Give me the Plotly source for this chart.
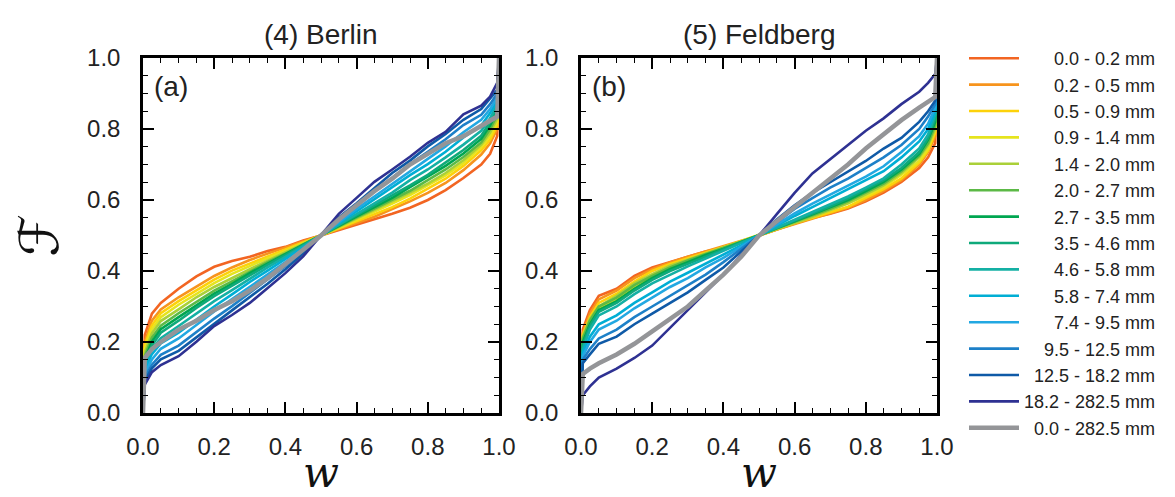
import plotly.graph_objects as go

w = [0, 0.005, 0.025, 0.05, 0.1, 0.15, 0.2, 0.25, 0.3, 0.35, 0.4, 0.45, 0.5,
     0.55, 0.6, 0.65, 0.7, 0.75, 0.8, 0.85, 0.9, 0.95, 0.975, 0.995, 1.0]

classes = ['0.0 - 0.2 mm', '0.2 - 0.5 mm', '0.5 - 0.9 mm', '0.9 - 1.4 mm', '1.4 - 2.0 mm',
           '2.0 - 2.7 mm', '2.7 - 3.5 mm', '3.5 - 4.6 mm', '4.6 - 5.8 mm', '5.8 - 7.4 mm',
           '7.4 - 9.5 mm', '9.5 - 12.5 mm', '12.5 - 18.2 mm', '18.2 - 282.5 mm', '0.0 - 282.5 mm']

colors = ['#f26522', '#f7941d', '#fdd20a', '#e6e41e', '#aad038', '#5cb946', '#00a650',
          '#0fa97a', '#14b0a4', '#00aed4', '#22a8e2', '#1d80c8', '#0f5aa7', '#2e3192', '#949598']

berlin = [
    [0, .22, .28, .31, .35, .385, .412, .428, .44, .456, .468, .486, .5, .515, .531, .546, .561, .578, .60, .628, .662, .70, .73, .78, 1],
    [0, .20, .26, .292, .326, .357, .386, .41, .431, .449, .466, .482, .5, .518, .535, .553, .574, .596, .62, .648, .684, .728, .76, .80, 1],
    [0, .19, .247, .281, .315, .346, .376, .401, .421, .441, .461, .481, .5, .52, .54, .561, .58, .604, .632, .66, .696, .74, .77, .81, 1],
    [0, .18, .236, .27, .305, .336, .366, .392, .415, .436, .456, .479, .5, .522, .544, .566, .59, .614, .641, .669, .704, .75, .78, .82, 1],
    [0, .17, .224, .259, .292, .326, .355, .381, .405, .429, .452, .476, .5, .524, .548, .571, .595, .621, .646, .676, .712, .756, .79, .83, 1],
    [0, .16, .212, .246, .281, .314, .345, .371, .399, .425, .449, .475, .5, .526, .551, .576, .601, .626, .656, .686, .721, .762, .80, .84, 1],
    [0, .15, .201, .236, .27, .304, .336, .364, .394, .421, .447, .474, .5, .527, .554, .581, .606, .636, .666, .696, .731, .772, .81, .85, 1],
    [0, .14, .19, .226, .26, .296, .329, .359, .389, .417, .445, .473, .5, .528, .556, .583, .611, .641, .671, .705, .741, .781, .82, .86, 1],
    [0, .13, .18, .211, .245, .281, .315, .346, .379, .41, .44, .47, .5, .531, .561, .591, .621, .656, .686, .72, .756, .795, .83, .87, 1],
    [0, .12, .166, .196, .226, .264, .30, .334, .369, .401, .433, .467, .5, .534, .568, .601, .636, .67, .701, .736, .776, .81, .845, .88, 1],
    [0, .11, .151, .181, .21, .249, .286, .321, .355, .391, .425, .462, .5, .539, .575, .61, .646, .68, .716, .751, .791, .826, .856, .89, 1],
    [0, .10, .136, .164, .19, .229, .266, .301, .339, .376, .414, .456, .5, .545, .586, .624, .661, .701, .736, .771, .811, .84, .87, .90, 1],
    [0, .09, .126, .151, .175, .214, .251, .289, .326, .364, .405, .449, .5, .551, .591, .634, .676, .711, .751, .786, .826, .856, .885, .91, 1],
    [0, .08, .115, .135, .16, .201, .245, .276, .31, .351, .394, .441, .5, .561, .606, .651, .686, .722, .761, .792, .841, .866, .891, .93, 1],
    [0, .155, .18, .20, .235, .26, .29, .315, .345, .38, .42, .46, .5, .545, .585, .625, .66, .70, .73, .76, .78, .81, .825, .835, 1],
]

feldberg = [
    [0, .235, .29, .33, .35, .386, .41, .426, .44, .455, .466, .482, .5, .518, .534, .549, .561, .576, .596, .621, .651, .69, .72, .76, 1],
    [0, .225, .28, .32, .345, .38, .405, .424, .44, .455, .468, .484, .5, .517, .532, .548, .561, .578, .60, .626, .656, .70, .735, .78, 1],
    [0, .22, .27, .31, .336, .37, .40, .42, .436, .451, .466, .483, .5, .518, .535, .55, .566, .581, .606, .631, .661, .705, .74, .79, 1],
    [0, .21, .26, .295, .32, .356, .385, .41, .43, .448, .465, .482, .5, .52, .538, .556, .571, .591, .611, .636, .671, .71, .745, .80, 1],
    [0, .215, .265, .30, .33, .365, .391, .415, .432, .45, .466, .483, .5, .519, .536, .553, .572, .591, .616, .641, .676, .72, .755, .80, 1],
    [0, .21, .26, .30, .325, .36, .386, .41, .43, .447, .464, .482, .5, .52, .538, .556, .575, .596, .621, .646, .681, .725, .76, .81, 1],
    [0, .20, .25, .29, .315, .35, .38, .405, .425, .445, .462, .481, .5, .52, .54, .56, .58, .60, .625, .651, .686, .73, .77, .82, 1],
    [0, .19, .245, .285, .31, .345, .375, .40, .42, .44, .46, .48, .5, .521, .542, .562, .582, .605, .63, .656, .69, .735, .775, .83, 1],
    [0, .18, .235, .275, .30, .335, .365, .39, .413, .435, .457, .478, .5, .522, .545, .567, .59, .61, .635, .661, .70, .745, .785, .84, 1],
    [0, .17, .215, .25, .275, .31, .34, .37, .395, .42, .445, .472, .5, .528, .555, .58, .605, .63, .655, .681, .72, .765, .80, .85, 1],
    [0, .16, .20, .235, .26, .295, .325, .355, .38, .41, .437, .468, .5, .532, .562, .59, .615, .64, .666, .695, .735, .78, .815, .86, 1],
    [0, .15, .18, .21, .235, .27, .30, .33, .36, .39, .425, .462, .5, .538, .575, .605, .635, .66, .69, .72, .755, .80, .835, .87, 1],
    [0, .14, .165, .195, .215, .25, .28, .31, .34, .375, .41, .455, .5, .545, .585, .62, .65, .68, .71, .745, .775, .82, .85, .88, 1],
    [0, .05, .075, .10, .125, .155, .19, .24, .29, .34, .39, .445, .5, .56, .62, .675, .715, .755, .795, .83, .87, .905, .93, .955, 1],
    [0, .11, .125, .14, .165, .195, .23, .265, .30, .345, .39, .44, .5, .54, .58, .62, .66, .70, .745, .785, .825, .86, .875, .89, 1],
]

FONT = "Liberation Sans, Arial, Helvetica, sans-serif"
W, H = 1175, 497
OFF = 8  # page body margin shifts the figure by 8px


def px_x(x):
    return (x - OFF) / W


def px_y(y):
    return (H - (y - OFF)) / H


fig = go.Figure()

for panel, (curves, xa, ya) in enumerate([(berlin, 'x', 'y'), (feldberg, 'x2', 'y2')]):
    for i, F in enumerate(curves):
        ndig = sum(c.isdigit() for c in classes[i])
        label = '\u2007' * (7 - ndig) + classes[i]
        fig.add_trace(go.Scatter(
            x=w, y=F, mode='lines', xaxis=xa, yaxis=ya,
            line=dict(color=colors[i], width=4.5 if i == 14 else 2.6),
            name=label, legendgroup=classes[i], showlegend=(panel == 0),
        ))

axis_common = dict(
    range=[0, 1], dtick=0.2, tickformat='.1f', showline=True, linecolor='black', linewidth=2.5,
    mirror='ticks', ticks='inside', ticklen=11, tickwidth=2, tickcolor='black',
    minor=dict(dtick=0.05, ticks='inside', ticklen=5, tickwidth=1.2, tickcolor='black'),
    showgrid=False, zeroline=False, tickfont=dict(size=24, color='#222'),
)
title_font = dict(family='DejaVu Serif', size=42, color='#111')
ydom = [px_y(413), px_y(58)]

fig.update_layout(
    width=W, height=H, margin=dict(l=0, r=0, t=0, b=0, autoexpand=False),
    plot_bgcolor='white', paper_bgcolor='white',
    font=dict(family=FONT, color='#222'),
    xaxis=dict(domain=[px_x(143), px_x(499)], anchor='y', **axis_common, ticklabelstandoff=10,
               automargin=True,
               title=dict(text='<i>w</i>', font=title_font, standoff=0)),
    yaxis=dict(domain=ydom, anchor='x', **axis_common, ticklabelstandoff=15, automargin=False,
               title=dict(text='\u2131', font=dict(family='DejaVu Sans', size=54, color='#111'))),
    xaxis2=dict(domain=[px_x(581), px_x(937)], anchor='y2', **axis_common, ticklabelstandoff=10,
                automargin=True,
                title=dict(text='<i>w</i>', font=title_font, standoff=0)),
    yaxis2=dict(domain=ydom, anchor='x2', **axis_common, ticklabelstandoff=15, automargin=False),
    legend=dict(x=px_x(964), y=px_y(40), xanchor='left', yanchor='top',
                font=dict(size=18, color='#222'), tracegroupgap=0, itemwidth=50,
                bgcolor='rgba(0,0,0,0)'),
    showlegend=True,
)

fig.add_annotation(text='(4) Berlin', xref='x domain', yref='paper', x=0.5, y=px_y(34),
                   showarrow=False, font=dict(size=28), yanchor='middle')
fig.add_annotation(text='(5) Feldberg', xref='x2 domain', yref='paper', x=0.5, y=px_y(34),
                   showarrow=False, font=dict(size=28), yanchor='middle')
fig.add_annotation(text='(a)', xref='x domain', yref='y domain', x=0.025, y=0.97,
                   xanchor='left', yanchor='top', showarrow=False, font=dict(size=28))
fig.add_annotation(text='(b)', xref='x2 domain', yref='y2 domain', x=0.025, y=0.97,
                   xanchor='left', yanchor='top', showarrow=False, font=dict(size=28))

fig.write_html("out.html")
